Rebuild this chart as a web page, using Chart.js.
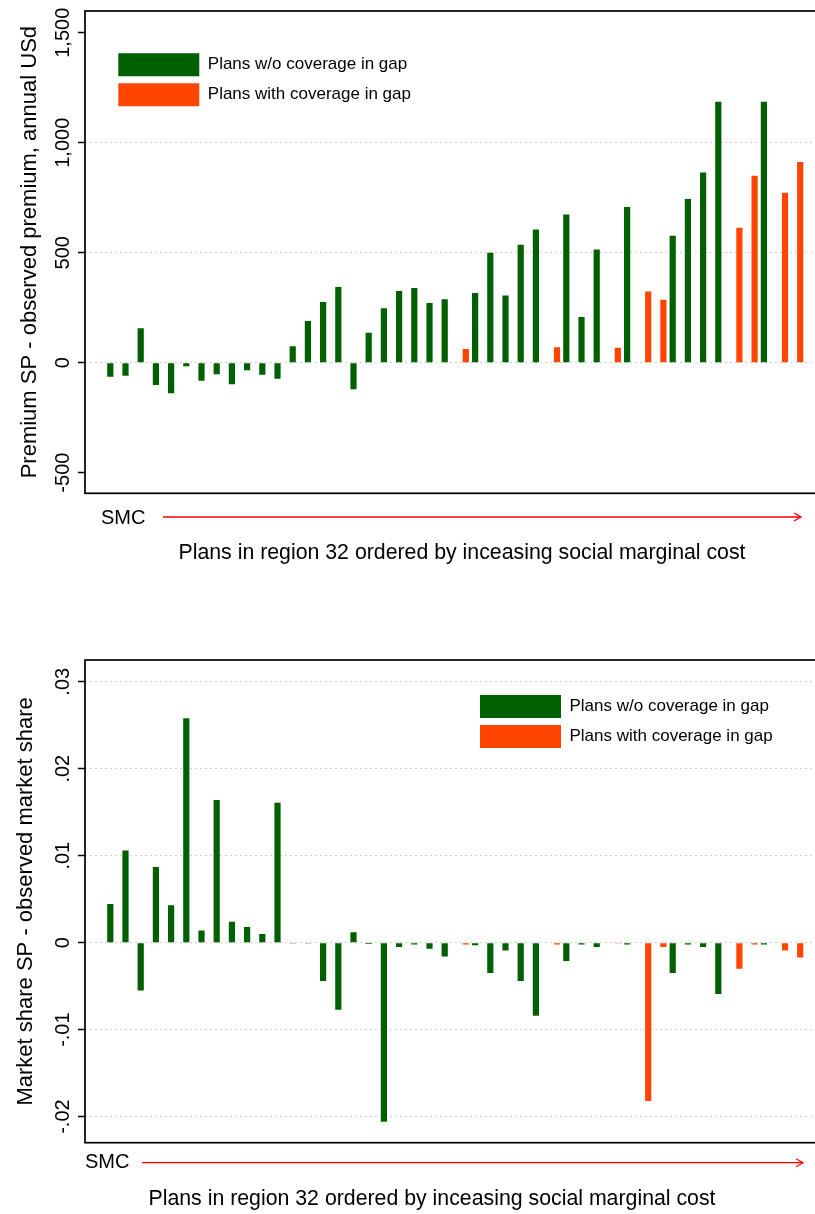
<!DOCTYPE html>
<html>
<head>
<meta charset="utf-8">
<title>Region 32 plans: social planner vs observed</title>
<script src="https://cdn.jsdelivr.net/npm/chart.js@4.4.1/dist/chart.umd.min.js"></script>
<style>
  html, body { margin: 0; padding: 0; background: #fff; overflow: hidden; width: 815px; height: 1214px; }
  canvas { position: absolute; left: 0; }
  #premium { top: 0; }
  #share { top: 600px; }
</style>
</head>
<body>
<canvas id="premium" width="840" height="600"></canvas>
<canvas id="share" width="840" height="614"></canvas>
<script>
// Plans in region 32, ordered by increasing social marginal cost
const plans = [1, 2, 3, 4, 5, 6, 7, 8, 9, 10, 11, 12, 13, 14, 15, 16, 17, 18, 19, 20, 21, 22, 23,
               24, 25, 26, 27, 28, 29, 30, 31, 32, 33, 34, 35, 36, 37, 38, 39, 40, 41, 42, 43, 44, 45, 46];

// 1 = plan offers coverage in the gap
const gapCoverage = [0, 0, 0, 0, 0, 0, 0, 0, 0, 0, 0, 0, 0, 0, 0, 0, 0, 0, 0, 0, 0, 0, 0,
                     1, 0, 0, 0, 0, 0, 1, 0, 0, 0, 1, 0, 1, 1, 0, 0, 0, 0, 1, 1, 0, 1, 1];

// Premium SP - observed premium (annual USD)
const premiumDiff = [-64, -60, 156, -101, -139, -16, -82, -53, -98, -35, -55, -73, 75, 190, 276, 344,
                     -121, 136, 247, 326, 340, 271, 288, 62, 317, 500, 305, 536, 606, 70, 674, 208,
                     514, 68, 708, 324, 286, 577, 744, 865, 1186, 614, 850, 1186, 773, 912];

// Market share SP - observed market share
const shareDiff = [0.00445, 0.0106, -0.0055, 0.0087, 0.0043, 0.0258, 0.0014, 0.0164, 0.0024, 0.0018,
                   0.001, 0.0161, -0.0001, -0.0001, -0.0044, -0.0077, 0.0012, -0.00015, -0.0206, -0.0005,
                   -0.0002, -0.0007, -0.0016, -0.0002, -0.0003, -0.0035, -0.0009, -0.0044, -0.0084, -0.0002,
                   -0.0021, -0.0002, -0.0005, -0.0001, -0.0002, -0.0182, -0.0005, -0.0035, -0.0002, -0.0005,
                   -0.0059, -0.003, -0.0002, -0.0002, -0.0009, -0.0017];

const premiumTicks = [-500, 0, 500, 1000, 1500];
const premiumTickLabels = ['-500', '0', '500', '1,000', '1,500'];
const premiumGridValues = [0, 500, 1000];
const shareTicks = [-0.02, -0.01, 0, 0.01, 0.02, 0.03];
const shareTickLabels = ['-.02', '-.01', '0', '.01', '.02', '.03'];

const seriesNames = ['Plans w/o coverage in gap', 'Plans with coverage in gap'];
const xTitle = 'Plans in region 32 ordered by inceasing social marginal cost';
const axisNote = 'SMC';
const premiumTitle = 'Premium SP - observed premium, annual USd';
const shareTitle = 'Market share SP - observed market share';

const GREEN = '#006000';
const ORANGE = '#ff4500';
const GRID = '#cfcfcf';
const FONT = '"Liberation Sans", Arial, Helvetica, sans-serif';

Chart.defaults.font.family = FONT;
Chart.defaults.color = '#000';

// split one value list into the two coverage groups
function groupData(values) {
  const without = plans.map((p, i) => ({ x: p, y: gapCoverage[i] === 0 ? values[i] : null }));
  const withGap = plans.map((p, i) => ({ x: p, y: gapCoverage[i] === 1 ? values[i] : null }));
  return [
    { label: seriesNames[0], data: without, backgroundColor: GREEN, borderWidth: 0 },
    { label: seriesNames[1], data: withGap, backgroundColor: ORANGE, borderWidth: 0 }
  ];
}

// frame, SMC arrow and x-axis caption
const axisDecor = {
  id: 'axisDecor',
  afterDraw(chart, args, o) {
    const { ctx, chartArea: a } = chart;
    ctx.save();
    ctx.strokeStyle = '#000';
    ctx.lineWidth = 1.7;
    ctx.strokeRect(a.left, a.top, a.right - a.left, a.bottom - a.top);

    ctx.fillStyle = '#000';
    ctx.textBaseline = 'middle';
    ctx.textAlign = 'left';
    ctx.font = '20px ' + FONT;
    ctx.fillText(axisNote, o.noteX, o.noteY);

    ctx.strokeStyle = '#ff0000';
    ctx.lineWidth = 1.3;
    ctx.beginPath();
    ctx.moveTo(o.arrowFrom, o.arrowY);
    ctx.lineTo(o.arrowTo, o.arrowY);
    ctx.stroke();
    ctx.beginPath();
    ctx.moveTo(o.arrowTo - 7, o.arrowY - 4);
    ctx.lineTo(o.arrowTo, o.arrowY);
    ctx.lineTo(o.arrowTo - 7, o.arrowY + 4);
    ctx.stroke();

    ctx.font = '21.3px ' + FONT;
    ctx.textAlign = 'center';
    ctx.fillText(xTitle, o.titleX, o.titleY);
    ctx.restore();
  }
};

// put the legend block at a fixed spot inside the plot region
const legendPlacer = {
  id: 'legendPlacer',
  afterLayout(chart, args, o) {
    if (chart.legend) {
      chart.legend.left = o.x;
      chart.legend.top = o.y;
    }
  }
};

function makeChart(id, cfg) {
  return new Chart(document.getElementById(id), {
    type: 'bar',
    data: { datasets: groupData(cfg.values) },
    plugins: [axisDecor, legendPlacer],
    options: {
      responsive: false,
      animation: false,
      events: [],
      layout: { padding: { top: cfg.padTop, left: 0, right: 14, bottom: 0 } },
      datasets: { bar: { categoryPercentage: 0.776, barPercentage: 1.05 } },
      scales: {
        x: {
          type: 'linear',
          min: -0.8586,
          max: 47.891,
          offset: false,
          afterBuildTicks: s => { s.ticks = plans.map(v => ({ value: v })); },
          afterFit: s => { s.height = cfg.xHeight; },
          ticks: { display: false },
          grid: { display: false, offset: false },
          border: { display: false }
        },
        y: {
          min: cfg.yMin,
          max: cfg.yMax,
          afterBuildTicks: s => { s.ticks = cfg.ticks.map(v => ({ value: v })); },
          afterFit: s => { s.width = 85; },
          ticks: {
            minRotation: 90,
            maxRotation: 90,
            crossAlign: 'center',
            padding: cfg.tickPad,
            font: { size: 20 },
            color: '#000',
            callback: (v, i) => cfg.tickLabels[i]
          },
          grid: {
            color: c => (c.tick && cfg.gridValues.includes(c.tick.value)) ? GRID : 'rgba(0,0,0,0)',
            lineWidth: 1,
            tickLength: 7,
            tickColor: '#000',
            tickWidth: 1.5,
            tickBorderDash: []
          },
          border: { display: false, dash: [2, 3] },
          title: {
            display: true,
            text: cfg.title,
            font: { size: 22 },
            color: '#000',
            padding: { top: cfg.titlePad, bottom: 0 }
          }
        }
      },
      plugins: {
        tooltip: { enabled: false },
        legend: {
          position: 'chartArea',
          align: 'start',
          labels: { boxWidth: 81, boxHeight: 23, padding: 7, font: { size: 17 }, color: '#000' }
        },
        legendPlacer: cfg.legendAt,
        axisDecor: cfg.decor
      }
    }
  });
}

makeChart('premium', {
  values: premiumDiff,
  padTop: 11,
  xHeight: 106.7,
  yMin: -594,
  yMax: 1599,
  ticks: premiumTicks,
  tickLabels: premiumTickLabels,
  gridValues: premiumGridValues,
  tickPad: -11,
  title: premiumTitle,
  titlePad: 17,
  legendAt: { x: 111.3, y: 46.3 },
  decor: { noteX: 101, noteY: 518, arrowFrom: 163, arrowTo: 801, arrowY: 517, titleX: 462, titleY: 553 }
});

makeChart('share', {
  values: shareDiff,
  padTop: 60,
  xHeight: 71.3,
  yMin: -0.023,
  yMax: 0.0325,
  ticks: shareTicks,
  tickLabels: shareTickLabels,
  gridValues: shareTicks,
  tickPad: -3.2,
  title: shareTitle,
  titlePad: 13,
  legendAt: { x: 473, y: 88 },
  decor: { noteX: 85, noteY: 562, arrowFrom: 142, arrowTo: 803, arrowY: 562.7, titleX: 432, titleY: 599 }
});
</script>
</body>
</html>
